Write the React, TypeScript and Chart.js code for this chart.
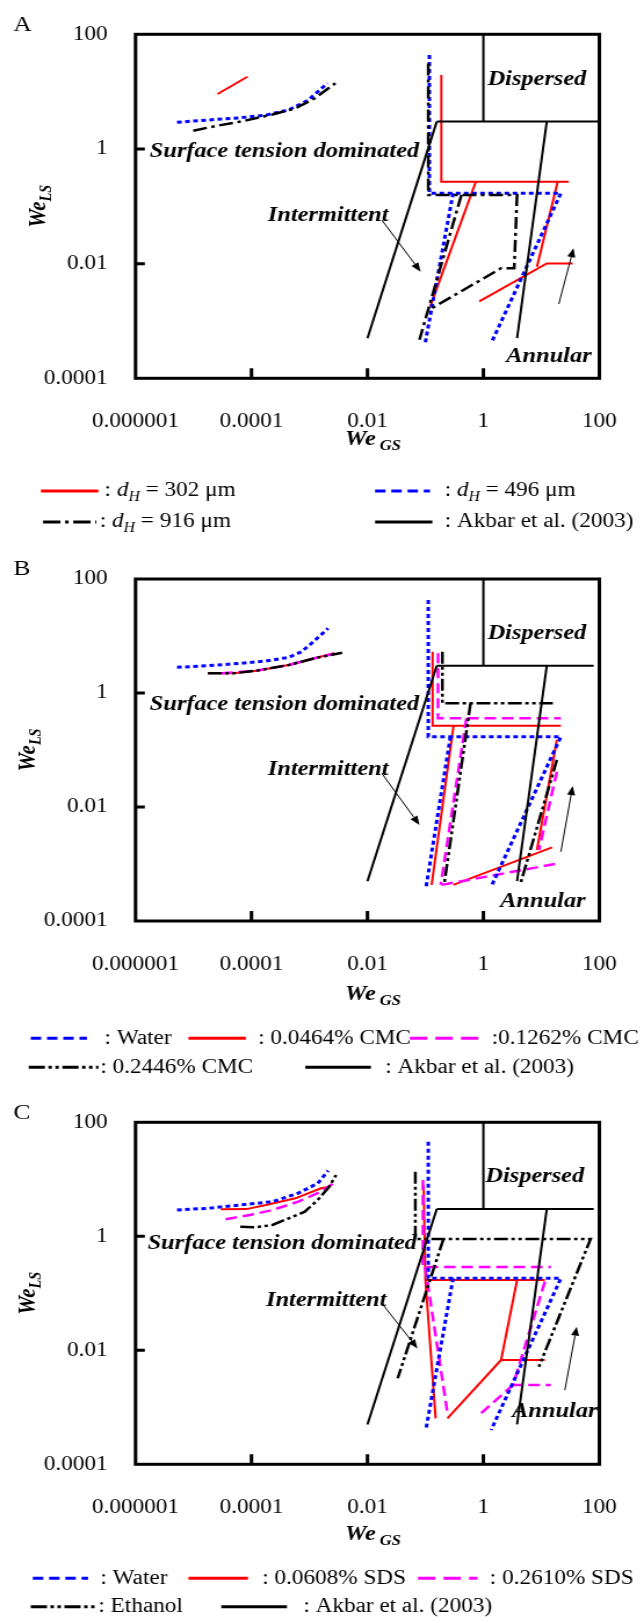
import React, { useEffect, useRef } from "react";
import { Chart, registerables } from "chart.js";

Chart.register(...registerables);

type Pt = [number, number];
type Seg = Pt[];

// ---------------- tick values / labels ----------------
const xTickValues = [1e-6, 1e-4, 1e-2, 1, 100];
const xTickLabels = ["0.000001", "0.0001", "0.01", "1", "100"];
const yTickValues = [1e-4, 1e-2, 1, 100];
const yTickLabels = ["0.0001", "0.01", "1", "100"];

// ---------------- Akbar et al. (2003) map ----------------
const akbarLeft: Seg = [[0.01, 0.0005], [0.157, 3.0]];
const akbarTopA: Seg = [[0.157, 3.0], [100, 3.0]];
const akbarTopBC: Seg = [[0.157, 3.0], [80, 3.0]];
const akbarMid: Seg = [[1, 3.0], [1, 100]];
const akbarRight: Seg = [[12.4, 3.0], [3.81, 0.0005]];

// ---------------- Panel A ----------------
const aDh302: Seg[] = [
  [[2.6e-5, 9.1], [8.5e-5, 18.2]],
  [[0.188, 19.5], [0.188, 0.268], [29.7, 0.268]],
  [[0.74, 0.268], [0.121, 0.0018]],
  [[19.1, 0.268], [8.4, 0.0088]],
  [[0.85, 0.0022], [12.4, 0.0101], [34.7, 0.0101]],
];
const aDh496: Seg[] = [
  [[5.2e-6, 2.92], [1.77e-5, 3.2], [6.4e-5, 3.5], [1.78e-4, 3.9], [4.4e-4, 4.8], [9.5e-4, 7.1], [2.04e-3, 14]],
  [[0.117, 43.5], [0.117, 0.169], [21.7, 0.169], [1.36, 0.00041]],
  [[0.3, 0.169], [0.099, 0.00041]],
];
const aDh916: Seg[] = [
  [[9.9e-6, 2.08], [2.6e-5, 2.55], [7.3e-5, 3.07], [2.3e-4, 4.0], [5.7e-4, 5.1], [1.22e-3, 7.6], [2.8e-3, 14]],
  [[0.112, 31], [0.112, 0.157], [3.81, 0.157], [3.4, 0.0083], [2.02, 0.0083], [0.128, 0.00166]],
  [[0.417, 0.157], [0.079, 0.00047]],
];

// ---------------- Panel B ----------------
const bWater: Seg[] = [
  [[5.2e-6, 2.82], [1.77e-5, 3.01], [6.4e-5, 3.32], [1.78e-4, 3.64], [4.4e-4, 4.23], [7.3e-4, 5.3], [1.08e-3, 7.4], [2.1e-3, 13.6]],
  [[0.112, 42.8], [0.112, 0.171], [21.7, 0.171], [1.36, 0.0004]],
  [[0.27, 0.171], [0.103, 0.0004]],
];
const bCmc0464: Seg[] = [
  [[1.77e-5, 2.22], [4.9e-5, 2.22], [1.21e-4, 2.46], [4.4e-4, 3.1], [1.22e-3, 4.06], [2.65e-3, 5.0]],
  [[0.133, 5.3], [0.133, 0.267], [21.7, 0.267]],
  [[0.306, 0.267], [0.128, 0.00043]],
  [[18.5, 0.15], [8.4, 0.00176]],
  [[0.304, 0.00043], [15.3, 0.00196]],
];
const bCmc1262: Seg[] = [
  [[3.0e-5, 2.22], [1.21e-4, 2.46], [4.4e-4, 3.1], [1.22e-3, 4.06], [3.0e-3, 5.05]],
  [[0.165, 4.97], [0.165, 0.36], [21.7, 0.36]],
  [[0.51, 0.36], [0.184, 0.00043]],
  [[18.5, 0.0416], [9.1, 0.00176]],
  [[0.19, 0.00043], [20, 0.00103]],
];
const bCmc2446: Seg[] = [
  [[1.77e-5, 2.22], [4.9e-5, 2.22], [1.21e-4, 2.46], [4.4e-4, 3.1], [1.22e-3, 4.06], [3.65e-3, 5.1]],
  [[0.196, 5.3], [0.196, 0.66], [15.8, 0.66]],
  [[0.6, 0.66], [0.21, 0.00043]],
  [[18.5, 0.067], [4.3, 0.00043]],
];

// ---------------- Panel C ----------------
const cWater: Seg[] = [
  [[5.2e-6, 2.89], [1.77e-5, 3.1], [6.4e-5, 3.54], [2.3e-4, 4.05], [6.4e-4, 5.7], [1.39e-3, 8.5], [2.1e-3, 14.2]],
  [[0.112, 45.7], [0.112, 0.183], [21.7, 0.183], [1.36, 0.0004]],
  [[0.3, 0.183], [0.103, 0.00043]],
];
const cSds0608: Seg[] = [
  [[2.94e-5, 2.98], [8.2e-5, 3.0], [1.78e-4, 3.54], [5.7e-4, 4.64], [1.58e-3, 6.95], [2.27e-3, 7.4]],
  [[0.093, 7.94], [0.1, 0.171], [0.15, 0.00064]],
  [[0.1, 0.171], [11.5, 0.171]],
  [[3.81, 0.171], [2.02, 0.00676], [0.24, 0.00064]],
  [[2.02, 0.00676], [11.5, 0.00676]],
];
const cSds2610: Seg[] = [
  [[3.57e-5, 1.99], [9.4e-5, 2.37], [2.3e-4, 2.89], [6.4e-4, 4.05], [1.58e-3, 6.05], [2.65e-3, 8.7]],
  [[0.0906, 9.7], [0.0906, 0.29], [14.6, 0.29]],
  [[0.099, 0.29], [0.238, 0.00084]],
  [[11.5, 0.16], [3.25, 0.00246], [14.6, 0.00246]],
  [[0.92, 0.00079], [3.25, 0.00246]],
];
const cEthanol: Seg[] = [
  [[6.4e-5, 1.47], [1.21e-4, 1.44], [2.3e-4, 1.58], [4.4e-4, 2.07], [8.3e-4, 2.7], [1.39e-3, 4.33], [2.18e-3, 7.4], [2.88e-3, 11.9]],
  [[0.067, 13.6], [0.067, 0.9], [70.7, 0.9], [9.06, 0.00515]],
  [[0.205, 0.9], [0.0333, 0.00323]],
];

// ---------------- styles & layout ----------------
const FONT = '"Liberation Serif", "Times New Roman", serif';
const PAGE_W = 644;
const W = 555; // internal canvas width (figure is horizontally stretched)
const CHART_LEFT = 116.8;
const CHART_RIGHT = 528.7;

interface Style { color: string; width: number; dash: number[]; legendDash: number[] }
const STY: Record<string, Style> = {
  red: { color: "#ff0000", width: 2, dash: [], legendDash: [] },
  blue: { color: "#0000ff", width: 3, dash: [4, 3], legendDash: [9, 5] },
  magenta: { color: "#ff00ff", width: 2.5, dash: [10, 5], legendDash: [15, 7] },
  dashDot: { color: "#000000", width: 2.5, dash: [12, 4, 3, 4], legendDash: [15, 4, 3, 4] },
  dashDotDot: { color: "#000000", width: 2.5, dash: [12, 3, 3, 3, 3, 3], legendDash: [14, 3, 3, 3, 3, 3] },
  akbar: { color: "#000000", width: 2, dash: [], legendDash: [] },
};

interface Part { t: string; italic?: boolean; sub?: boolean }
interface LegendItem { x1: number; x2: number; tx: number; style: Style; parts: Part[] }
interface Note { t: string; x: number; y: number }
interface Panel {
  letter: string; top: number; height: number; chartTop: number; chartBottom: number;
  series: { label: string; segs: Seg[]; style: Style }[];
  yTitleX: number; xTitleY: number; legendY: number[]; legend: LegendItem[][];
  notes: Note[]; arrows: [Pt, Pt][];
}

const dh = (v: string): Part[] => [{ t: ": " }, { t: "d", italic: true }, { t: "H", italic: true, sub: true }, { t: " = " + v + " μm" }];
const akbarItem = (x1: number, x2: number, tx: number): LegendItem => ({ x1, x2, tx, style: STY.akbar, parts: [{ t: ": Akbar et al. (2003)" }] });
const akbarSeries = (top: Seg) => ({ label: "Akbar et al. (2003)", segs: [akbarLeft, top, akbarMid, akbarRight], style: STY.akbar });

const panels: Panel[] = [
  {
    letter: "A", top: 0, height: 540, chartTop: 34.3, chartBottom: 378.3,
    series: [
      akbarSeries(akbarTopA),
      { label: "dH = 916 μm", segs: aDh916, style: STY.dashDot },
      { label: "dH = 496 μm", segs: aDh496, style: STY.blue },
      { label: "dH = 302 μm", segs: aDh302, style: STY.red },
    ],
    yTitleX: 33.6, xTitleY: 440, legendY: [491, 522],
    legend: [
      [
        { x1: 35.3, x2: 84.8, tx: 90.1, style: STY.red, parts: dh("302") },
        { x1: 323.2, x2: 370.6, tx: 383.2, style: STY.blue, parts: dh("496") },
      ],
      [
        { x1: 37.1, x2: 83, tx: 86, style: STY.dashDot, parts: dh("916") },
        akbarItem(323.2, 372.6, 383.2),
      ],
    ],
    notes: [
      { t: "Dispersed", x: 8.4, y: 16 },
      { t: "Surface tension dominated", x: 3.7e-4, y: 0.9 },
      { t: "Intermittent", x: 0.0021, y: 0.07 },
      { t: "Annular", x: 13.5, y: 0.000238 },
    ],
    arrows: [[[0.0177, 0.0577], [0.0826, 0.00723]], [[20, 0.00198], [35.9, 0.0185]]],
  },
  {
    letter: "B", top: 540, height: 540, chartTop: 39, chartBottom: 381,
    series: [
      akbarSeries(akbarTopBC),
      { label: "0.2446% CMC", segs: bCmc2446, style: STY.dashDotDot },
      { label: "Water", segs: bWater, style: STY.blue },
      { label: "0.1262% CMC", segs: bCmc1262, style: STY.magenta },
      { label: "0.0464% CMC", segs: bCmc0464, style: STY.red },
    ],
    yTitleX: 24.7, xTitleY: 455, legendY: [498.3, 527.3],
    legend: [
      [
        { x1: 26.5, x2: 74.9, tx: 90.1, style: STY.blue, parts: [{ t: ": Water" }] },
        { x1: 162.4, x2: 211.9, tx: 222.5, style: STY.red, parts: [{ t: ": 0.0464% CMC" }] },
        { x1: 353.2, x2: 413.2, tx: 423.8, style: STY.magenta, parts: [{ t: ":0.1262% CMC" }] },
      ],
      [
        { x1: 24.7, x2: 84.8, tx: 86.5, style: STY.dashDotDot, parts: [{ t: ": 0.2446% CMC" }] },
        akbarItem(263.1, 319.6, 332),
      ],
    ],
    notes: [
      { t: "Dispersed", x: 8.4, y: 11.1 },
      { t: "Surface tension dominated", x: 3.7e-4, y: 0.62 },
      { t: "Intermittent", x: 0.0021, y: 0.0458 },
      { t: "Annular", x: 10.6, y: 0.000218 },
    ],
    arrows: [[[0.0177, 0.039], [0.079, 0.00483]], [[21.7, 0.00164], [34.7, 0.0233]]],
  },
  {
    letter: "C", top: 1080, height: 543, chartTop: 42.3, chartBottom: 384.3,
    series: [
      akbarSeries(akbarTopBC),
      { label: "Ethanol", segs: cEthanol, style: STY.dashDotDot },
      { label: "Water", segs: cWater, style: STY.blue },
      { label: "0.2610% SDS", segs: cSds2610, style: STY.magenta },
      { label: "0.0608% SDS", segs: cSds0608, style: STY.red },
    ],
    yTitleX: 24.7, xTitleY: 455, legendY: [498.3, 526.7],
    legend: [
      [
        { x1: 28.3, x2: 75.9, tx: 86.5, style: STY.blue, parts: [{ t: ": Water" }] },
        { x1: 162.4, x2: 213.7, tx: 226, style: STY.red, parts: [{ t: ": 0.0608% SDS" }] },
        { x1: 360.2, x2: 411.5, tx: 422.1, style: STY.magenta, parts: [{ t: ": 0.2610% SDS" }] },
      ],
      [
        { x1: 26.5, x2: 83, tx: 84.8, style: STY.dashDotDot, parts: [{ t: ": Ethanol" }] },
        akbarItem(190.7, 247.3, 261.4),
      ],
    ],
    notes: [
      { t: "Dispersed", x: 7.7, y: 11.1 },
      { t: "Surface tension dominated", x: 3.4e-4, y: 0.75 },
      { t: "Intermittent", x: 0.00195, y: 0.076 },
      { t: "Annular", x: 17, y: 0.00084 },
    ],
    arrows: [[[0.0177, 0.0668], [0.073, 0.0108]], [[25.4, 0.002], [40.7, 0.026]]],
  },
];

// ---------------- drawing helpers ----------------
function setFont(ctx: CanvasRenderingContext2D, size: number, italic: boolean, bold: boolean) {
  ctx.font = `${italic ? "italic " : ""}${bold ? "bold " : ""}${size}px ${FONT}`;
}
function partsWidth(ctx: CanvasRenderingContext2D, parts: Part[], size: number, bold: boolean, forceItalic = false) {
  let w = 0;
  for (const p of parts) {
    setFont(ctx, p.sub ? size * 0.68 : size, forceItalic || !!p.italic, bold);
    w += ctx.measureText(p.t).width;
  }
  return w;
}
function drawParts(ctx: CanvasRenderingContext2D, parts: Part[], x: number, y: number, size: number, bold: boolean, forceItalic = false) {
  let cx = x;
  ctx.textAlign = "left";
  ctx.textBaseline = "middle";
  for (const p of parts) {
    setFont(ctx, p.sub ? size * 0.68 : size, forceItalic || !!p.italic, bold);
    ctx.fillText(p.t, cx, y + (p.sub ? size * 0.3 : 0));
    cx += ctx.measureText(p.t).width;
  }
}
function labelFor(values: number[], labels: string[], v: number) {
  const i = values.findIndex((t) => Math.abs(Math.log10(t) - Math.log10(v)) < 1e-6);
  return i >= 0 ? labels[i] : "";
}

function makeOverlay(p: Panel) {
  return {
    id: "overlay" + p.letter,
    afterDraw(chart: any) {
      const ctx: CanvasRenderingContext2D = chart.ctx;
      const { left, right, top, bottom } = chart.chartArea;
      const xs = chart.scales.x;
      const ys = chart.scales.y;
      ctx.save();
      ctx.fillStyle = "#000";
      ctx.strokeStyle = "#000";
      ctx.setLineDash([]);

      // frame
      ctx.lineWidth = 3;
      ctx.strokeRect(left, top, right - left, bottom - top);
      // inward tick marks
      ctx.beginPath();
      for (const v of xTickValues.slice(1, -1)) {
        const px = xs.getPixelForValue(v);
        ctx.moveTo(px, bottom);
        ctx.lineTo(px, bottom - 10);
      }
      for (const v of yTickValues.slice(1, -1)) {
        const py = ys.getPixelForValue(v);
        ctx.moveTo(left, py);
        ctx.lineTo(left + 8, py);
      }
      ctx.stroke();

      // panel letter
      setFont(ctx, 22, false, false);
      ctx.textAlign = "left";
      ctx.textBaseline = "middle";
      ctx.fillText(p.letter, 11.5, p.chartTop - 9.5);

      // axis titles
      const xt: Part[] = [{ t: "We" }, { t: " GS", sub: true }];
      drawParts(ctx, xt, 297.3, p.xTitleY, 21, true, true);
      const yt: Part[] = [{ t: "We" }, { t: "LS", sub: true }];
      const yw = partsWidth(ctx, yt, 21, true, true);
      ctx.save();
      ctx.translate(p.yTitleX, (top + bottom) / 2);
      ctx.rotate(-Math.PI / 2);
      drawParts(ctx, yt, -yw / 2, 0, 21, true, true);
      ctx.restore();

      // region labels
      setFont(ctx, 21, true, true);
      ctx.textAlign = "center";
      ctx.textBaseline = "middle";
      for (const n of p.notes) {
        ctx.fillText(n.t, xs.getPixelForValue(n.x), ys.getPixelForValue(n.y));
      }

      // arrows
      ctx.lineWidth = 1;
      for (const [a, b] of p.arrows) {
        const x1 = xs.getPixelForValue(a[0]), y1 = ys.getPixelForValue(a[1]);
        const x2 = xs.getPixelForValue(b[0]), y2 = ys.getPixelForValue(b[1]);
        const ang = Math.atan2(y2 - y1, x2 - x1);
        const hl = 9, hw = 3.5;
        const bx = x2 - hl * Math.cos(ang), by = y2 - hl * Math.sin(ang);
        ctx.beginPath();
        ctx.moveTo(x1, y1);
        ctx.lineTo(bx, by);
        ctx.stroke();
        ctx.beginPath();
        ctx.moveTo(x2, y2);
        ctx.lineTo(bx + hw * Math.sin(ang), by - hw * Math.cos(ang));
        ctx.lineTo(bx - hw * Math.sin(ang), by + hw * Math.cos(ang));
        ctx.closePath();
        ctx.fill();
      }

      // legend
      p.legend.forEach((row, ri) => {
        const y = p.legendY[ri];
        for (const it of row) {
          ctx.strokeStyle = it.style.color;
          ctx.lineWidth = 3;
          ctx.setLineDash(it.style.legendDash);
          ctx.beginPath();
          ctx.moveTo(it.x1, y);
          ctx.lineTo(it.x2, y);
          ctx.stroke();
          ctx.setLineDash([]);
          ctx.fillStyle = "#000";
          drawParts(ctx, it.parts, it.tx, y, 20, false);
        }
      });
      ctx.restore();
    },
  };
}

function PanelChart({ panel }: { panel: Panel }) {
  const ref = useRef<HTMLCanvasElement>(null);
  useEffect(() => {
    const canvas = ref.current;
    if (!canvas) return;
    const datasets: any[] = [];
    for (const s of panel.series) {
      for (const seg of s.segs) {
        datasets.push({
          label: s.label,
          data: seg.map(([x, y]) => ({ x, y })),
          showLine: true,
          borderColor: s.style.color,
          backgroundColor: s.style.color,
          borderWidth: s.style.width,
          borderDash: s.style.dash,
          borderCapStyle: "butt",
          borderJoinStyle: "miter",
          pointRadius: 0,
          pointHoverRadius: 0,
          fill: false,
          tension: 0,
        });
      }
    }
    const tickFont = { family: FONT, size: 20 };
    const chart = new Chart(canvas, {
      type: "scatter",
      data: { datasets },
      options: {
        animation: false,
        responsive: false,
        maintainAspectRatio: false,
        devicePixelRatio: 1,
        events: [],
        layout: { padding: { top: panel.chartTop, left: 0, right: W - CHART_RIGHT, bottom: 0 } },
        plugins: { legend: { display: false }, tooltip: { enabled: false }, title: { display: false } },
        scales: {
          x: {
            type: "logarithmic",
            position: "bottom",
            min: 1e-6,
            max: 100,
            grid: { display: false },
            border: { display: false },
            afterBuildTicks: (s: any) => { s.ticks = xTickValues.map((value) => ({ value })); },
            afterFit: (s: any) => { s.height = panel.height - panel.chartBottom; },
            ticks: {
              autoSkip: false,
              maxRotation: 0,
              minRotation: 0,
              padding: 23.5,
              color: "#000",
              font: tickFont,
              callback: (v: any) => labelFor(xTickValues, xTickLabels, Number(v)),
            },
          },
          y: {
            type: "logarithmic",
            position: "left",
            min: 1e-4,
            max: 100,
            grid: { display: false },
            border: { display: false },
            afterBuildTicks: (s: any) => { s.ticks = yTickValues.map((value) => ({ value })); },
            afterFit: (s: any) => { s.width = CHART_LEFT; },
            ticks: {
              autoSkip: false,
              padding: 16,
              color: "#000",
              font: tickFont,
              callback: (v: any) => labelFor(yTickValues, yTickLabels, Number(v)),
            },
          },
        },
      } as any,
      plugins: [makeOverlay(panel)],
    });
    return () => chart.destroy();
  }, [panel]);
  return (
    <canvas
      ref={ref}
      width={W}
      height={panel.height}
      style={{ position: "absolute", left: 0, top: panel.top, width: PAGE_W + "px", height: panel.height + "px", display: "block" }}
    />
  );
}

export default function App() {
  return (
    <div style={{ position: "absolute", left: 0, top: 0, width: PAGE_W, height: 1623, background: "#fff", overflow: "hidden" }}>
      {panels.map((p) => (
        <PanelChart key={p.letter} panel={p} />
      ))}
    </div>
  );
}
